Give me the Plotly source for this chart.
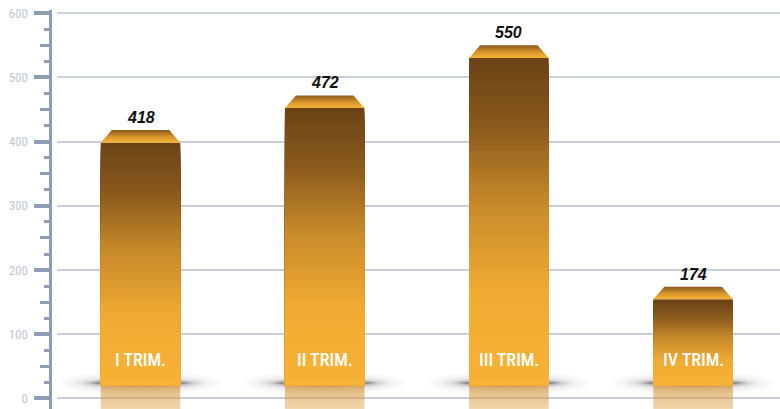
import numpy as np
import plotly.graph_objects as go

# ---------------- data ----------------
categories = ["I TRIM.", "II TRIM.", "III TRIM.", "IV TRIM."]
values = [418, 472, 550, 174]
y_tick_values = [0, 100, 200, 300, 400, 500, 600]
y_tick_labels = ["0", "100", "200", "300", "400", "500", "600"]

# ---------------- style ----------------
W, H = 780, 409
Y_RANGE = [-16.4, 605.1]
X_RANGE = [-0.4534, 3.472]
X_DOMAIN = [57 / W, 1.0]
AXIS_POS = 49.5 / W
AXIS_COLOR = "#8d9db6"
GRID_COLOR = "#c9d0db"
TICK_LABEL_COLOR = "#bfc7d4"
NARROW = "Roboto Condensed, Roboto, sans-serif"

BAR_W = 0.432
BASE = 20.0
BEVEL = 19.5
INSET = 0.06
LABEL_Y = 60
N_SLICES = 60

front_stops = [(0.0, "#6b4316"), (0.2, "#8a5a1d"), (0.44, "#c88a2a"),
               (0.7, "#efaa33"), (1.0, "#f8b234")]


def hex2rgb(h):
    h = h.lstrip("#")
    return np.array([int(h[i:i + 2], 16) for i in (0, 2, 4)], dtype=float)


def interp_color(t):
    for (t0, c0), (t1, c1) in zip(front_stops[:-1], front_stops[1:]):
        if t0 <= t <= t1:
            f = (t - t0) / (t1 - t0) if t1 > t0 else 0
            c = hex2rgb(c0) * (1 - f) + hex2rgb(c1) * f
            return "rgb(%d,%d,%d)" % tuple(np.round(c).astype(int))
    return front_stops[-1][1]


xpos = np.arange(len(categories), dtype=float)

fig = go.Figure()

# ---- soft shadows under bars (shapes drawn below traces) ----
SH_A = 0.434     # half width in x units
SH_B = 18.7      # half height in y units
SH_Y = 24.0
rings = [(1.00, 1.00, 0.03), (0.90, 0.78, 0.035), (0.81, 0.60, 0.05),
         (0.74, 0.46, 0.07), (0.69, 0.36, 0.09), (0.65, 0.28, 0.12),
         (0.61, 0.21, 0.17), (0.57, 0.15, 0.22)]
shapes = []
for c in xpos:
    for sx, sy, a in rings:
        shapes.append(dict(type="circle", xref="x", yref="y", layer="below",
                           x0=c - SH_A * sx, x1=c + SH_A * sx,
                           y0=SH_Y - SH_B * sy, y1=SH_Y + SH_B * sy,
                           fillcolor="rgba(55,55,72,%.3f)" % a,
                           line=dict(width=0)))

# ---- bar front faces: stacked gradient slices ----
bx, by, bb, bc = [], [], [], []
for k in range(N_SLICES):
    t = k / N_SLICES
    col = interp_color(t)
    for c, v in zip(xpos, values):
        top_front = v - BEVEL
        top = BASE + (top_front - BASE) * (1 - t)
        bx.append(c)
        by.append(top - BASE)
        bb.append(BASE)
        bc.append(col)
fig.add_trace(go.Bar(x=bx, y=by, base=bb, width=BAR_W,
                     marker=dict(color=bc, line=dict(width=0)),
                     hoverinfo="skip", showlegend=False))

# ---- reflections ----
rx, ry = [], []
for c in xpos:
    rx += [c - BAR_W / 2, c + BAR_W / 2, c + BAR_W / 2, c - BAR_W / 2, c - BAR_W / 2, None]
    ry += [BASE, BASE, Y_RANGE[0], Y_RANGE[0], BASE, None]
fig.add_trace(go.Scatter(x=rx, y=ry, fill="toself", mode="lines",
                         line=dict(width=0),
                         fillgradient=dict(type="vertical",
                                           colorscale=[[0, "rgba(222,152,50,0.40)"],
                                                       [1, "rgba(210,140,45,0.62)"]]),
                         hoverinfo="skip", showlegend=False))

# ---- bevel tops ----
for c, v in zip(xpos, values):
    yb = v - BEVEL
    fig.add_trace(go.Scatter(
        x=[c - BAR_W / 2, c + BAR_W / 2, c + BAR_W / 2 - INSET, c - BAR_W / 2 + INSET, c - BAR_W / 2],
        y=[yb, yb, v, v, yb], fill="toself", mode="lines", line=dict(width=0),
        fillgradient=dict(type="vertical",
                          colorscale=[[0, "#f6b236"], [0.45, "#d9962c"], [1, "#8a5a1c"]]),
        hoverinfo="skip", showlegend=False))

# dummy trace for the secondary tick axis
fig.add_trace(go.Scatter(x=[0], y=[None], yaxis="y2", mode="markers",
                         hoverinfo="skip", showlegend=False))

annotations = []
for c, v, name in zip(xpos, values, categories):
    annotations.append(dict(x=c, y=v, xref="x", yref="y", text=str(v),
                            showarrow=False, yanchor="bottom", yshift=2,
                            font=dict(family="Liberation Sans, Arial, sans-serif", size=16,
                                      color="#111111", weight="bold", style="italic")))
    annotations.append(dict(x=c, y=LABEL_Y, xref="x", yref="y", text=name,
                            showarrow=False, yanchor="middle",
                            font=dict(family=NARROW, size=18, color="white", weight=500)))

fig.update_layout(
    template="none",
    width=W, height=H,
    margin=dict(l=0, r=0, t=10, b=0),
    paper_bgcolor="white", plot_bgcolor="white",
    barmode="overlay",
    showlegend=False,
    shapes=shapes,
    annotations=annotations,
    xaxis=dict(domain=X_DOMAIN, range=X_RANGE, visible=False, fixedrange=True),
    yaxis=dict(range=Y_RANGE, anchor="free", position=AXIS_POS,
               tickmode="array", tickvals=y_tick_values, ticktext=y_tick_labels,
               ticks="outside", ticklen=15, tickwidth=4, tickcolor=AXIS_COLOR,
               ticklabelstandoff=3,
               showline=True, linecolor=AXIS_COLOR, linewidth=3,
               showgrid=True, gridcolor=GRID_COLOR, gridwidth=1.5,
               zeroline=True, zerolinecolor=GRID_COLOR, zerolinewidth=1.5,
               tickfont=dict(family=NARROW, size=13, color=TICK_LABEL_COLOR),
               minor=dict(tick0=0, dtick=25, ticks="outside", ticklen=5,
                          tickwidth=3, tickcolor=AXIS_COLOR, showgrid=False),
               automargin=False, fixedrange=True),
    yaxis2=dict(range=Y_RANGE, anchor="free", position=AXIS_POS, overlaying="y",
                tickmode="linear", tick0=0, dtick=50,
                ticks="outside", ticklen=10, tickwidth=3, tickcolor=AXIS_COLOR,
                showticklabels=False, showgrid=False, zeroline=False, showline=False,
                automargin=False, fixedrange=True),
)

fig.write_html("out.html", config={"displayModeBar": False},
               post_script="document.body.style.margin='0';")
